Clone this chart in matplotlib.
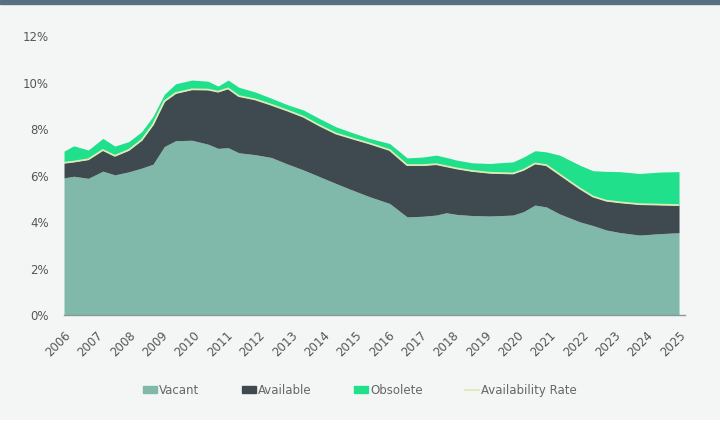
import numpy as np
import matplotlib
matplotlib.use("Agg")
import matplotlib.pyplot as plt
from matplotlib.patches import Rectangle, Patch
from matplotlib.lines import Line2D

# values (percent of inventory)
years = [2006.0, 2006.3, 2006.75, 2007.2, 2007.57, 2008.0, 2008.4, 2008.75,
         2009.1, 2009.45, 2009.95, 2010.45, 2010.76, 2011.07, 2011.4, 2011.9,
         2012.4, 2012.9, 2013.4, 2013.9, 2014.4, 2014.9, 2015.44, 2016.06,
         2016.6, 2017.1, 2017.5, 2017.81, 2018.12, 2018.6, 2019.15, 2019.87,
         2020.2, 2020.55, 2020.9, 2021.31, 2021.93, 2022.34, 2022.75, 2023.16,
         2023.78, 2024.4, 2025.0]
vacant = [5.90, 5.97, 5.88, 6.19, 6.03, 6.16, 6.32, 6.49,
          7.25, 7.50, 7.52, 7.35, 7.17, 7.20, 6.98, 6.90,
          6.78, 6.50, 6.24, 5.95, 5.66, 5.38, 5.09, 4.80,
          4.22, 4.25, 4.30, 4.40, 4.33, 4.28, 4.26, 4.30,
          4.45, 4.73, 4.65, 4.35, 4.01, 3.85, 3.66, 3.55,
          3.44, 3.50, 3.54]
available = [0.65, 0.63, 0.82, 0.91, 0.82, 0.94, 1.21, 1.71,
             1.95, 2.05, 2.19, 2.35, 2.44, 2.55, 2.44, 2.38,
             2.27, 2.30, 2.29, 2.20, 2.15, 2.22, 2.29, 2.30,
             2.23, 2.20, 2.19, 2.00, 1.98, 1.92, 1.86, 1.79,
             1.80, 1.79, 1.80, 1.70, 1.44, 1.25, 1.26, 1.30,
             1.33, 1.25, 1.19]
obsolete = [0.50, 0.68, 0.40, 0.50, 0.42, 0.36, 0.36, 0.35,
            0.30, 0.40, 0.40, 0.36, 0.24, 0.36, 0.38, 0.32,
            0.28, 0.25, 0.29, 0.30, 0.29, 0.25, 0.22, 0.28,
            0.31, 0.35, 0.39, 0.38, 0.36, 0.35, 0.40, 0.50,
            0.55, 0.55, 0.57, 0.83, 1.00, 1.11, 1.26, 1.32,
            1.32, 1.40, 1.44]
tick_years = list(range(2006, 2026))

C_VAC = "#80b8aa"
C_AVL = "#3e4a4f"
C_OBS = "#20e08c"
C_LINE = "#dfe9b6"
BG = "#f4f6f6"

x = np.array(years)
v = np.array(vacant)
a = v + np.array(available)
o = a + np.array(obsolete)

fig = plt.figure(figsize=(7.2, 4.25), dpi=100)
fig.patch.set_facecolor(BG)
# top band and white strip at the bottom
fig.patches.append(Rectangle((0, 0.991), 1, 0.009, transform=fig.transFigure,
                             color="#5b6f82", zorder=0))
fig.patches.append(Rectangle((0, 0), 1, 0.012, transform=fig.transFigure,
                             color="white", zorder=0))

ax = fig.add_axes([0.0889, 0.2588, 0.8542, 0.6562])
ax.set_facecolor(BG)

ax.fill_between(x, 0, v, color=C_VAC, lw=0)
ax.fill_between(x, v, a, color=C_AVL, lw=0)
ax.fill_between(x, a, o, color=C_OBS, lw=0)
ax.plot(x, a, color=C_LINE, lw=1.3)
ax.axhline(0, color="#8a9896", lw=1.0, xmax=1.01, clip_on=False)

ax.set_xlim(2006, 2025)
ax.set_ylim(0, 12)
ax.set_yticks([0, 2, 4, 6, 8, 10, 12])
ax.set_yticklabels([f"{t}%" for t in [0, 2, 4, 6, 8, 10, 12]])
ax.set_xticks(tick_years)
ax.set_xticklabels([str(t) for t in tick_years], rotation=45,
                   ha="right", va="top", rotation_mode="anchor")
ax.tick_params(axis="both", length=0, labelsize=8.5, colors="#555555")
ax.tick_params(axis="y", pad=11)
ax.tick_params(axis="x", pad=10)
for s in ax.spines.values():
    s.set_visible(False)

handles = [Patch(color=C_VAC), Patch(color=C_AVL), Patch(color=C_OBS),
           Line2D([0], [0], color=C_LINE, lw=1.3)]
leg = fig.legend(handles, ["Vacant", "Available", "Obsolete", "Availability Rate"],
                 loc="center", bbox_to_anchor=(0.5, 0.082), ncol=4,
                 frameon=False, fontsize=8.5, handlelength=1.2,
                 handleheight=0.6, handletextpad=0.15, columnspacing=3.6)
for t in leg.get_texts():
    t.set_color("#666666")

fig.savefig("out.png", dpi=100, facecolor=fig.get_facecolor())
